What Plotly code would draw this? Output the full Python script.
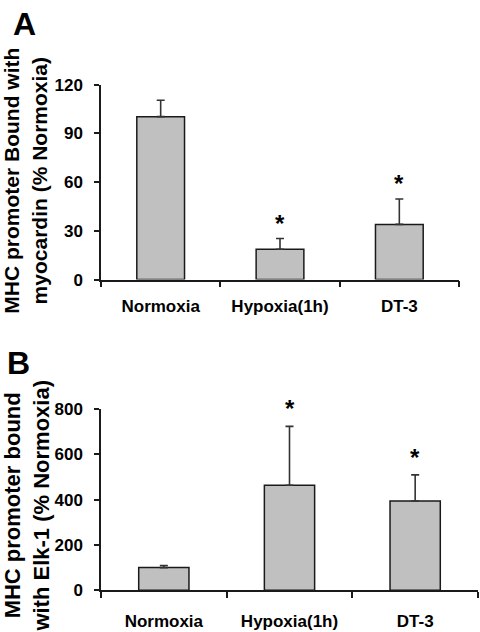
import plotly.graph_objects as go

categories = ["Normoxia", "Hypoxia(1h)", "DT-3"]

# Panel A: MHC promoter bound with myocardin (% Normoxia)
a_values = [100.3, 18.7, 34.0]
a_errors = [10.1, 6.6, 15.6]
a_stars = ["", "*", "*"]
a_ticks = [0, 30, 60, 90, 120]

# Panel B: MHC promoter bound with Elk-1 (% Normoxia)
b_values = [100, 463, 394]
b_errors = [9, 260, 115]
b_stars = ["", "*", "*"]
b_ticks = [0, 200, 400, 600, 800]

FONT = "Liberation Sans, Arial, sans-serif"
BAR_FILL = "#c0c0c0"
INK = "#1a1a1a"
ERR = "#333333"

fig = go.Figure()

for vals, errs, xa, ya in [(a_values, a_errors, "x", "y"), (b_values, b_errors, "x2", "y2")]:
    fig.add_trace(go.Bar(
        x=categories, y=vals, xaxis=xa, yaxis=ya, width=0.4,
        marker=dict(color=BAR_FILL, line=dict(color=INK, width=1.5)),
        error_y=dict(type="data", array=errs, arrayminus=[0] * len(errs), symmetric=False,
                     color=ERR, thickness=1.6, width=4),
        showlegend=False, hoverinfo="skip",
    ))

tickfont = dict(family=FONT, size=17, color="#000", weight="bold")

def xaxis(domain, anchor, standoff):
    return dict(domain=domain, anchor=anchor, type="category", tickson="boundaries",
                range=[-0.5, 2.5], showline=True, linecolor=INK, linewidth=1.5,
                ticks="outside", ticklen=6, tickwidth=1.5, tickcolor=INK,
                tickfont=tickfont, showgrid=False, zeroline=False, fixedrange=True,
                ticklabelstandoff=standoff)

def yaxis(domain, anchor, rng, ticks):
    return dict(domain=domain, anchor=anchor, range=rng, tickvals=ticks,
                showline=True, linecolor=INK, linewidth=1.5,
                ticks="outside", ticklen=5, tickwidth=1.5, tickcolor=INK,
                tickfont=tickfont, showgrid=False, zeroline=False, fixedrange=True,
                ticklabelstandoff=8)

annotations = []
# significance stars placed above the error bars
for cats, vals, errs, stars, xr, yr, shift in [
    (categories, a_values, a_errors, a_stars, "x", "y", 0),
    (categories, b_values, b_errors, b_stars, "x2", "y2", 2),
]:
    for c, v, e, s in zip(cats, vals, errs, stars):
        if s:
            annotations.append(dict(x=c, y=v + e, xref=xr, yref=yr, text=s, showarrow=False,
                                    yanchor="bottom", yshift=shift,
                                    font=dict(family=FONT, size=24, color="#000", weight="bold")))

# panel letters
annotations.append(dict(x=24.5 / 480, y=1 - 15 / 632, xref="paper", yref="paper", text="A",
                        showarrow=False, xanchor="center", yanchor="middle",
                        font=dict(family=FONT, size=32, color="#000", weight="bold")))
annotations.append(dict(x=18 / 480, y=1 - 365 / 632, xref="paper", yref="paper", text="B",
                        showarrow=False, xanchor="center", yanchor="middle",
                        font=dict(family=FONT, size=32, color="#000", weight="bold")))

# axis titles
annotations.append(dict(x=0, y=1 - 177 / 632, xref="paper", yref="paper",
                        text="MHC promoter Bound with<br>myocardin (% Normoxia)",
                        textangle=-90, showarrow=False, xanchor="left", yanchor="middle",
                        xshift=-1, borderpad=0,
                        font=dict(family=FONT, size=21, color="#000", weight="bold")))
annotations.append(dict(x=0, y=1 - 512 / 632, xref="paper", yref="paper",
                        text="MHC promoter bound<br>with Elk-1 (% Normoxia)",
                        textangle=-90, showarrow=False, xanchor="left", yanchor="middle",
                        xshift=-1, borderpad=0,
                        font=dict(family=FONT, size=22, color="#000", weight="bold")))

fig.update_layout(
    width=480, height=632,
    margin=dict(l=0, r=0, t=0, b=0),
    paper_bgcolor="white", plot_bgcolor="white",
    xaxis=xaxis([101 / 480, 459 / 480], "y", 10),
    yaxis=yaxis([1 - 279 / 632, 1 - 78 / 632], "x", [0, 120], a_ticks),
    xaxis2=xaxis([101 / 480, 478 / 480], "y2", 15),
    yaxis2=yaxis([1 - 599.3 / 632, 1 - 412.3 / 632], "x2", [0, 800], b_ticks),
    annotations=annotations,
)

fig.write_html("out.html", config={"displayModeBar": False},
               post_script="document.body.style.margin='0';document.body.style.overflow='hidden';")
